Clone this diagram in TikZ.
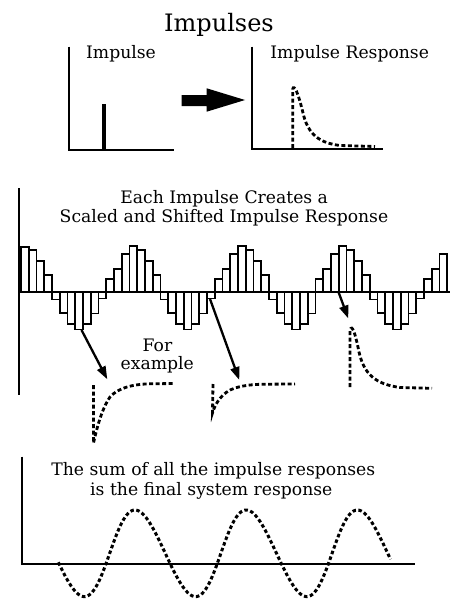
\documentclass[tikz,border=0pt]{standalone}
\usepackage{fontspec}
\setmainfont{DejaVu Serif}
\usetikzlibrary{arrows.meta}
\begin{document}
\begin{tikzpicture}[x=1pt,y=-1pt,
  axis/.style={line width=2pt},
  thinaxis/.style={line width=1.6pt},
  bar/.style={line width=1.7pt},
  resp/.style={line width=2.8pt, dash pattern=on 4pt off 2.5pt},
  sumresp/.style={line width=3pt, dash pattern=on 3.5pt off 2.5pt},
  lbl/.style={font=\fontsize{17.2}{20}\selectfont, anchor=base, inner sep=0pt},
  ttl/.style={font=\fontsize{24}{28}\selectfont, anchor=base, inner sep=0pt},
  ptr/.style={line width=2.3pt, -{Triangle[length=13pt,width=9pt]}}]
\useasboundingbox (0,0) rectangle (457,610);

% ---------- top ----------
\node[ttl] (title) at (219,31.7) {Impulses};
\node[lbl] (imp) at (121,58.3) {Impulse};
\node[lbl] (impresp) at (349.7,58.3) {Impulse Response};

\draw[axis] (69,46.7) -- (69,150) -- (174,150);
\draw[line width=4pt] (104,150) -- (104,104);

\fill (181.7,95) -- (206.7,95) -- (206.7,88.3) -- (245,100) -- (206.7,111.7)
      -- (206.7,106) -- (181.7,106) -- cycle;

\draw[axis] (252.3,46.7) -- (252.3,149) -- (382.7,149);
\draw[resp] (292.7,148) -- (292.7,89) .. controls (294,84) and (298,92) .. (303,113)
      .. controls (308,135) and (320,143) .. (340,145.5) -- (375,146.5);

% ---------- middle ----------
\node[lbl] (each) at (224.2,203.3) {Each Impulse Creates a};
\node[lbl] (scaled) at (224,222.3) {Scaled and Shifted Impulse Response};

\draw[thinaxis] (19,188.3) -- (19,395);
\draw[thinaxis] (19,291.7) -- (450,291.7);

\foreach \h [count=\i from 0] in {
  45,41.7,31,16.7,-7.7,-21,-32,-37.7,-32,-21.7,-6.7,12.7,23,37.7,
  46,41.7,31,16.7,-7.7,-21,-32,-37.7,-32,-21.7,-6.7,12.7,23,37.7,
  46,41.7,31,16.7,-7.7,-21,-32,-37.7,-32,-21.7,12.7,23,37.7,
  46,41.7,31,16.7,-7.7,-21,-32,-37.7,-32,-21.7,-6.7,12.7,23,37.7}
{
  \draw[bar] ({21+7.75*\i},291.7) rectangle ({21+7.75*(\i+1)},{291.7-\h});
}

\coordinate (a1s) at (81.5,330);
\coordinate (a1e) at (107.3,379.3);
\coordinate (a2s) at (210,299);
\coordinate (a2e) at (239.3,380);
\coordinate (a3s) at (338.5,292);
\coordinate (a3e) at (348.3,318.5);
\draw[ptr] (a1s) -- (a1e);
\draw[ptr] (a2s) -- (a2e);
\draw[ptr] (a3s) -- (a3e);

\node[lbl] (for) at (157.5,351.7) {For};
\node[lbl] (example) at (157.3,369) {example};

\draw[resp] (93.5,385) -- (93.5,443) .. controls (96,432) and (101,410) .. (110,397)
      .. controls (118,388) and (132,384.3) .. (150,383.8) -- (175,383.5);
\draw[resp] (213,384) -- (212.5,413) .. controls (215,404) and (222,392) .. (235,388)
      .. controls (245,385) and (255,384.3) .. (265,384.2) -- (295,384);
\draw[resp] (350,387) -- (350,330) .. controls (352,324) and (355,332) .. (359,352)
      .. controls (364,374) and (375,384) .. (400,387.5) -- (432,388.3);

% ---------- bottom ----------
\node[lbl] (sum1) at (213.3,475) {The sum of all the impulse responses};
\node[lbl] (sum2) at (211.3,495) {is the final system response};

\draw[axis] (21.7,456.7) -- (21.7,564) -- (415,564);
\draw[sumresp] plot[domain=-258:818, samples=240, smooth]
   ({135 + 0.30889*\x + 2.5*(1-cos(\x))}, {553.3 - 43.3*cos(\x)});
\end{tikzpicture}
\end{document}
